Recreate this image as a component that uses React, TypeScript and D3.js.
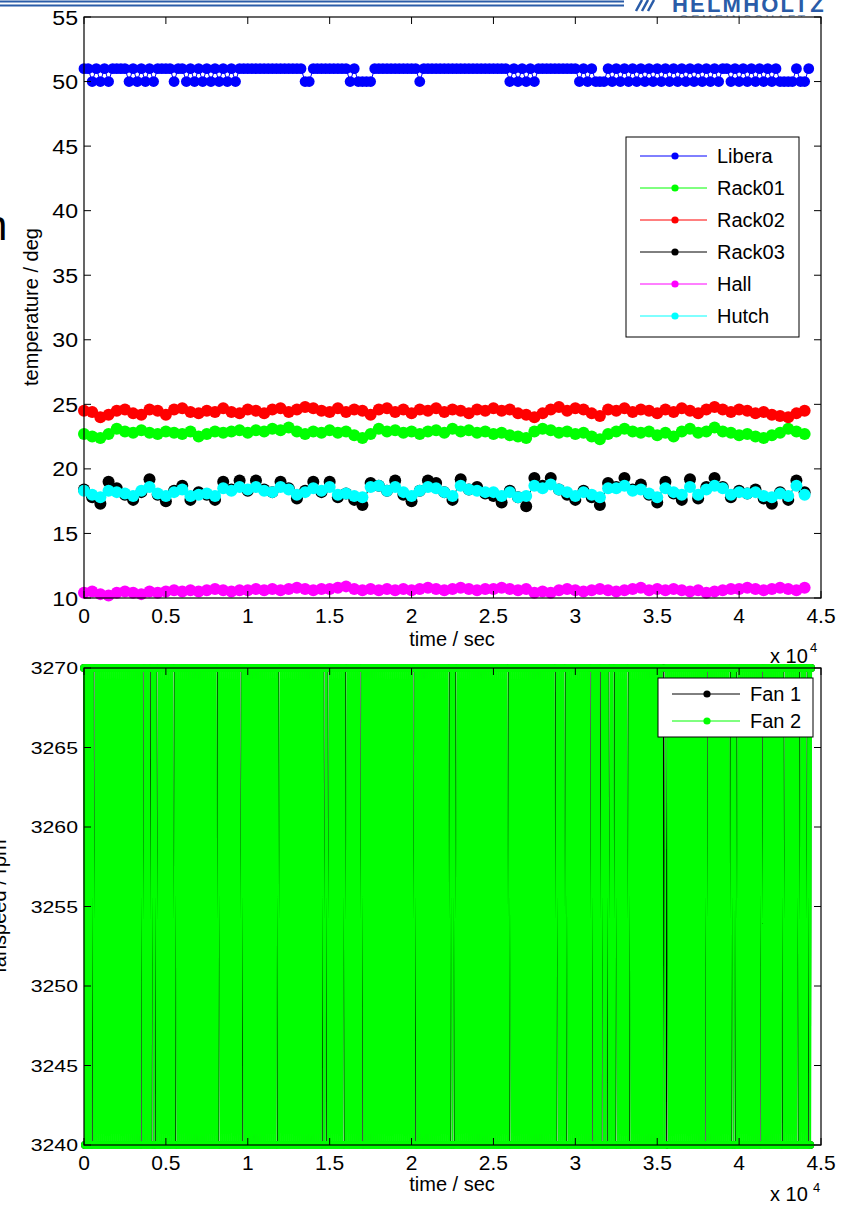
import React from "react";
import * as d3 from "d3";

// ---------- data ----------
const xTickValues = [0, 5000, 10000, 15000, 20000, 25000, 30000, 35000, 40000, 45000];
const xTickLabels = ["0", "0.5", "1", "1.5", "2", "2.5", "3", "3.5", "4", "4.5"];
const tempTicks = [10, 15, 20, 25, 30, 35, 40, 45, 50, 55];
const fanTicks = [3240, 3245, 3250, 3255, 3260, 3265, 3270];

const liberaStep = 250; // s between Libera samples
const tempStep = 500; // s between rack / hall / hutch samples
const fanStep = 60; // s between fan samples

const libera = [
  51, 51, 50, 51, 50, 51, 50, 51, 51, 51,
  51, 50, 51, 50, 51, 50, 51, 50, 51, 51,
  51, 51, 50, 51, 51, 50, 51, 50, 51, 50,
  51, 50, 51, 50, 51, 50, 51, 50, 51, 51,
  51, 51, 51, 51, 51, 51, 51, 51, 51, 51,
  51, 51, 51, 51, 50, 50, 51, 51, 51, 51,
  51, 51, 51, 51, 51, 50, 51, 50, 50, 50,
  50, 51, 51, 51, 51, 51, 51, 51, 51, 51,
  51, 51, 50, 51, 51, 51, 51, 51, 51, 51,
  51, 51, 51, 51, 51, 51, 51, 51, 51, 51,
  51, 51, 51, 51, 50, 51, 50, 51, 50, 51,
  50, 51, 51, 51, 51, 51, 51, 51, 51, 51,
  51, 50, 51, 50, 51, 50, 50, 50, 51, 50,
  51, 50, 51, 50, 51, 50, 51, 50, 51, 50,
  51, 50, 51, 50, 51, 50, 51, 50, 51, 50,
  51, 50, 51, 50, 51, 50, 51, 51, 50, 51,
  50, 51, 50, 51, 50, 51, 50, 51, 50, 51,
  50, 50, 50, 50, 51, 50, 50, 51,
];

const rack01 = [
  22.7, 22.5, 22.4, 22.7, 23.1, 22.9, 22.8, 23.0, 22.8, 22.7,
  22.9, 22.8, 22.7, 22.9, 22.5, 22.7, 22.9, 22.8, 22.9, 23.0,
  22.8, 23.0, 22.9, 23.1, 23.0, 23.2, 22.9, 22.7, 22.9, 22.8,
  23.0, 22.8, 22.9, 22.6, 22.4, 22.7, 23.1, 22.9, 23.0, 22.8,
  22.9, 22.7, 22.9, 23.0, 22.8, 23.1, 22.9, 23.0, 22.8, 22.9,
  22.7, 22.8, 22.6, 22.5, 22.4, 22.9, 23.1, 23.0, 22.8, 22.9,
  22.7, 22.8, 22.5, 22.3, 22.7, 22.9, 23.1, 22.9, 22.8, 22.9,
  22.6, 22.8, 22.5, 22.9, 23.1, 22.8, 22.9, 23.2, 22.9, 22.8,
  22.6, 22.7, 22.5, 22.4, 22.6, 22.8, 23.1, 22.9, 22.7,
];

const rack02 = [
  24.5, 24.4, 24.0, 24.2, 24.5, 24.6, 24.3, 24.2, 24.6, 24.5,
  24.2, 24.6, 24.7, 24.4, 24.3, 24.5, 24.4, 24.7, 24.4, 24.3,
  24.6, 24.5, 24.3, 24.6, 24.7, 24.4, 24.6, 24.8, 24.7, 24.5,
  24.4, 24.7, 24.4, 24.6, 24.5, 24.2, 24.6, 24.7, 24.4, 24.6,
  24.3, 24.6, 24.5, 24.7, 24.4, 24.6, 24.5, 24.3, 24.6, 24.5,
  24.7, 24.5, 24.6, 24.3, 24.2, 24.0, 24.3, 24.6, 24.8, 24.5,
  24.7, 24.6, 24.3, 24.1, 24.6, 24.5, 24.7, 24.4, 24.6, 24.5,
  24.3, 24.6, 24.4, 24.7, 24.5, 24.3, 24.6, 24.8, 24.6, 24.4,
  24.6, 24.5, 24.3, 24.4, 24.2, 24.1, 24.0, 24.3, 24.5,
];

const rack03 = [
  18.4, 17.8, 17.3, 19.0, 18.5, 18.0, 17.6, 18.2, 19.2, 18.0,
  17.5, 18.3, 18.7, 17.6, 18.2, 18.0, 17.6, 19.0, 18.4, 19.1,
  18.3, 19.1, 18.4, 18.2, 19.0, 18.5, 17.7, 18.3, 19.0, 18.2,
  19.0, 17.8, 18.1, 17.6, 17.2, 18.9, 18.7, 18.3, 19.1, 18.0,
  17.5, 18.3, 19.1, 18.9, 18.2, 17.6, 19.2, 18.4, 18.6, 18.1,
  17.9, 17.4, 18.3, 17.8, 17.1, 19.3, 18.7, 19.3, 18.4, 18.0,
  17.6, 18.3, 17.8, 17.2, 18.9, 18.6, 19.3, 18.4, 18.8, 18.0,
  17.4, 19.0, 18.1, 17.6, 19.2, 17.7, 18.6, 19.3, 18.6, 17.8,
  18.3, 18.1, 18.4, 17.7, 17.3, 18.2, 17.6, 19.1, 18.2,
];

const hall = [
  10.4, 10.5, 10.3, 10.2, 10.4, 10.5, 10.4, 10.3, 10.5, 10.4,
  10.5, 10.6, 10.5, 10.6, 10.5, 10.6, 10.7, 10.6, 10.5, 10.6,
  10.6, 10.7, 10.6, 10.7, 10.6, 10.7, 10.8, 10.7, 10.6, 10.7,
  10.7, 10.8, 10.9, 10.7, 10.6, 10.7, 10.6, 10.7, 10.6, 10.7,
  10.6, 10.7, 10.8, 10.7, 10.6, 10.7, 10.8, 10.7, 10.6, 10.7,
  10.7, 10.8, 10.7, 10.6, 10.7, 10.4, 10.5, 10.4, 10.6, 10.7,
  10.6, 10.5, 10.6, 10.7, 10.6, 10.5, 10.6, 10.7, 10.8, 10.6,
  10.7, 10.6, 10.7, 10.6, 10.5, 10.6, 10.4, 10.5, 10.6, 10.7,
  10.7, 10.8, 10.7, 10.6, 10.7, 10.8, 10.7, 10.6, 10.8,
];

const hutch = [
  18.3, 18.0, 17.8, 18.3, 18.2, 18.1, 17.9, 18.3, 18.6, 18.1,
  17.9, 18.2, 18.4, 17.9, 18.0, 18.1, 17.9, 18.5, 18.3, 18.6,
  18.4, 18.6, 18.3, 18.2, 18.6, 18.4, 18.0, 18.2, 18.5, 18.3,
  18.6, 18.0, 18.1, 17.9, 17.8, 18.6, 18.7, 18.3, 18.6, 18.2,
  17.9, 18.3, 18.6, 18.5, 18.2, 17.9, 18.7, 18.4, 18.3, 18.2,
  18.2, 17.9, 18.2, 17.8, 17.9, 18.7, 18.5, 18.8, 18.4, 18.2,
  17.9, 18.2, 18.0, 17.8, 18.5, 18.5, 18.7, 18.3, 18.4, 18.1,
  17.8, 18.5, 18.2, 18.0, 18.6, 18.0, 18.4, 18.7, 18.5, 18.0,
  18.2, 18.1, 18.2, 17.9, 17.8, 18.1, 17.9, 18.7, 18.0,
];

// fan speed levels per sample: "1" = 3270 rpm, "0" = 3240 rpm
const fan1Levels = [
  "10101010101010101010101010101010101010101010101010",
  "10101010101010101010101010101010101010101010101010",
  "10101010101010101010101010101010101010101010101010",
  "10101010101010101010101010101010101010101010101010",
  "10101010101010101010101010101010101010101010101010",
  "10101010101010101010101010101010101010101010101010",
  "10101010101010101010101010101010101010101010101010",
  "10101010101010101010101010101010101010101010101010",
  "10101010101010101010101010101010101010101010101010",
  "10101010101010101010101010101010101010101010101010",
  "10101010101010101010101010101010101010101010101010",
  "10101010101010101010101010101010101010101010101010",
  "10101010101010101010101010101010101010101010101010",
  "10101010101010101010101010101010101010101010101010",
  "10101010101010101010101010101010101010101",
];
const fan2Levels = [
  "10101010" + "1100" + "1010101010" + "1010101010" + "1010101010" + "10101010",
  "10101010" + "1100" + "10101" + "0011" + "0" + "1100" + "101010101010101" + "0011" + "01010",
  "1010101010" + "1010101010" + "1010101010" + "10101" + "0011" + "01010101010",
  "101010101" + "0011" + "0101010101" + "0101010101" + "0101010101" + "010" + "1100",
  "1010101010" + "1010101010" + "1010101010" + "1010101010" + "10" + "1100" + "1100",
  "10101010101010" + "1100" + "1010101010101" + "0011" + "010101010101010",
  "1010101010" + "1010101010" + "1010101010" + "10101" + "0011" + "01010101010",
  "101010101010101010101" + "0011" + "0" + "1100" + "10101010101010101010",
  "1010101010101010101010101010101" + "0011" + "010101010101010",
  "10101010101010101010101010101" + "0011" + "010101" + "0011" + "0101010",
  "101010101010101" + "0011" + "010101" + "0011" + "010" + "1100" + "101" + "0011" + "0101010",
  "101" + "0011" + "01010101010101010101010101010101" + "000111" + "01010",
  "10101010101010101010101010101010" + "1100" + "10101010101010",
  "1010101" + "0011" + "0" + "1100" + "1010101010101010101010" + "1100" + "10101010",
  "1010101010" + "1100" + "101010101010" + "1100" + "10101" + "0011" + "01",
];

// ---------- layout ----------
const W = 850;
const H = 1205;
const L = 84;
const R = 821;
const FONT = "'Liberation Sans', Arial, Helvetica, sans-serif";

const x = d3.scaleLinear().domain([0, 45000]).range([L, R]);
const yT = d3.scaleLinear().domain([10, 55]).range([598, 17]);
const yB = d3.scaleLinear().domain([3240, 3270]).range([1145, 668]);

type Pt = [number, number];
const toPts = (vals: number[], step: number): Pt[] => vals.map((v, i) => [i * step, v]);
const decode = (chunks: string[]) =>
  chunks.join("").split("").map((c) => (c === "1" ? 3270 : 3240));

const tempSeries = [
  { name: "Libera", color: "#0000ff", pts: toPts(libera, liberaStep), r: 5.4 },
  { name: "Rack01", color: "#00ff00", pts: toPts(rack01, tempStep), r: 6 },
  { name: "Rack02", color: "#ff0000", pts: toPts(rack02, tempStep), r: 6 },
  { name: "Rack03", color: "#000000", pts: toPts(rack03, tempStep), r: 6 },
  { name: "Hall", color: "#ff00ff", pts: toPts(hall, tempStep), r: 6 },
  { name: "Hutch", color: "#00ffff", pts: toPts(hutch, tempStep), r: 6 },
];

const fanSeries = [
  { name: "Fan 1", color: "#000000", pts: toPts(decode(fan1Levels), fanStep), w: 1.2 },
  { name: "Fan 2", color: "#00ff00", pts: toPts(decode(fan2Levels), fanStep), w: 1.9 },
];

function Txt(props: {
  x: number; y: number; size: number; anchor?: string; sx?: number; rot?: number;
  fill?: string; weight?: string; ls?: number; children: React.ReactNode;
}) {
  const { x: tx, y: ty, size, anchor = "start", sx = 1, rot = 0, fill = "#000", weight = "normal", ls = 0 } = props;
  return (
    <text
      transform={`translate(${tx},${ty}) rotate(${rot}) scale(${sx},1)`}
      textAnchor={anchor}
      fontSize={size}
      fontFamily={FONT}
      fill={fill}
      fontWeight={weight}
      letterSpacing={ls}
    >
      {props.children}
    </text>
  );
}

function Frame({ top, bottom, yScale, yTicks, tickFont, tickSx }: {
  top: number; bottom: number; yScale: d3.ScaleLinear<number, number>;
  yTicks: number[]; tickFont: number; tickSx: number;
}) {
  const tl = 7;
  return (
    <g>
      <rect x={L} y={top} width={R - L} height={bottom - top} fill="none" stroke="#000" strokeWidth={1.2} />
      {xTickValues.map((v, i) => (
        <g key={"x" + i}>
          <line x1={x(v)} x2={x(v)} y1={bottom} y2={bottom - tl} stroke="#000" />
          <line x1={x(v)} x2={x(v)} y1={top} y2={top + tl} stroke="#000" />
        </g>
      ))}
      {yTicks.map((v, i) => (
        <g key={"y" + i}>
          <line x1={L} x2={L + tl} y1={yScale(v)} y2={yScale(v)} stroke="#000" />
          <line x1={R} x2={R - tl} y1={yScale(v)} y2={yScale(v)} stroke="#000" />
          <Txt x={78} y={yScale(v) + tickFont * 0.36} size={tickFont} anchor="end" sx={tickSx}>
            {String(v)}
          </Txt>
        </g>
      ))}
      {xTickValues.map((v, i) => (
        <Txt key={"xl" + i} x={x(v)} y={bottom + 25} size={21} anchor="middle">
          {xTickLabels[i]}
        </Txt>
      ))}
    </g>
  );
}

export default function App() {
  const lineT = d3.line<Pt>().x((d) => x(d[0])).y((d) => yT(d[1]));
  const lineB = d3.line<Pt>().x((d) => x(d[0])).y((d) => yB(d[1]));

  return (
    <svg width={W} height={H} style={{ position: "absolute", left: 0, top: 0 }}>
      <rect x={0} y={0} width={W} height={H} fill="#fff" />
      {/* slide decoration behind the figure */}
      <line x1={0} x2={624} y1={1.5} y2={1.5} stroke="#2a5ca8" strokeWidth={2} />
      <line x1={0} x2={624} y1={5.5} y2={5.5} stroke="#2a5ca8" strokeWidth={2} />
      <path d="M636,11 L642,0 M642,11 L648,0 M648,11 L654,0" stroke="#2a5ca8" strokeWidth={2.5} fill="none" />
      <Txt x={672} y={12} size={22} weight="bold" fill="#2a5ca8" ls={2.2}>HELMHOLTZ</Txt>
      <Txt x={679} y={24} size={12} fill="#8aa3c4" ls={2.8}>GEMEINSCHAFT</Txt>
      <Txt x={-16} y={240} size={42}>n</Txt>

      {/* ---------- top axes ---------- */}
      <rect x={L} y={17} width={R - L} height={598 - 17} fill="#fff" />
      {tempSeries.map((s) => (
        <g key={s.name}>
          <path d={lineT(s.pts) || ""} fill="none" stroke={s.color} strokeWidth={1} />
          {s.pts.map((p, i) => (
            <circle key={i} cx={x(p[0])} cy={yT(p[1])} r={s.r} fill={s.color} />
          ))}
        </g>
      ))}
      <Frame top={17} bottom={598} yScale={yT} yTicks={tempTicks} tickFont={21} tickSx={1.1} />
      <Txt x={452} y={646} size={20} anchor="middle">time / sec</Txt>
      <Txt x={770} y={663} size={20}>x 10</Txt>
      <Txt x={810} y={652} size={13}>4</Txt>
      <Txt x={38} y={307} size={20} anchor="middle" rot={-90}>temperature / deg</Txt>

      {/* legend top */}
      <rect x={626} y={137} width={173} height={200} fill="#fff" stroke="#000" strokeWidth={1} />
      {tempSeries.map((s, i) => {
        const ly = 156 + i * 32;
        return (
          <g key={"lg" + s.name}>
            <line x1={640} x2={707} y1={ly} y2={ly} stroke={s.color} strokeWidth={1} />
            <circle cx={675} cy={ly} r={3.6} fill={s.color} />
            <Txt x={717} y={ly + 7} size={20}>{s.name}</Txt>
          </g>
        );
      })}

      {/* ---------- bottom axes ---------- */}
      <rect x={L} y={668} width={R - L} height={1145 - 668} fill="#fff" />
      {fanSeries.map((s) => (
        <g key={s.name}>
          <path d={lineB(s.pts) || ""} fill="none" stroke={s.color} strokeWidth={s.w} />
        </g>
      ))}
      {fanSeries.map((s) => (
        <g key={"m" + s.name}>
          {s.pts.map((p, i) => (
            <circle key={i} cx={x(p[0])} cy={yB(p[1])} r={4} fill={s.color} />
          ))}
        </g>
      ))}
      <Frame top={668} bottom={1145} yScale={yB} yTicks={fanTicks} tickFont={17} tickSx={1.25} />
      <Txt x={452} y={1191} size={20} anchor="middle">time / sec</Txt>
      <Txt x={770} y={1201} size={20}>x 10</Txt>
      <Txt x={813} y={1192} size={13}>4</Txt>
      <Txt x={6} y={906} size={20} anchor="middle" rot={-90}>fanspeed / rpm</Txt>

      {/* legend bottom */}
      <rect x={658} y={678} width={155} height={59} fill="#fff" stroke="#000" strokeWidth={1} />
      {fanSeries.map((s, i) => {
        const ly = 694 + i * 27;
        return (
          <g key={"lf" + s.name}>
            <line x1={672} x2={740} y1={ly} y2={ly} stroke={s.color} strokeWidth={1} />
            <circle cx={707} cy={ly} r={3.6} fill={s.color} />
            <Txt x={750} y={ly + 7} size={20}>{s.name}</Txt>
          </g>
        );
      })}
    </svg>
  );
}
